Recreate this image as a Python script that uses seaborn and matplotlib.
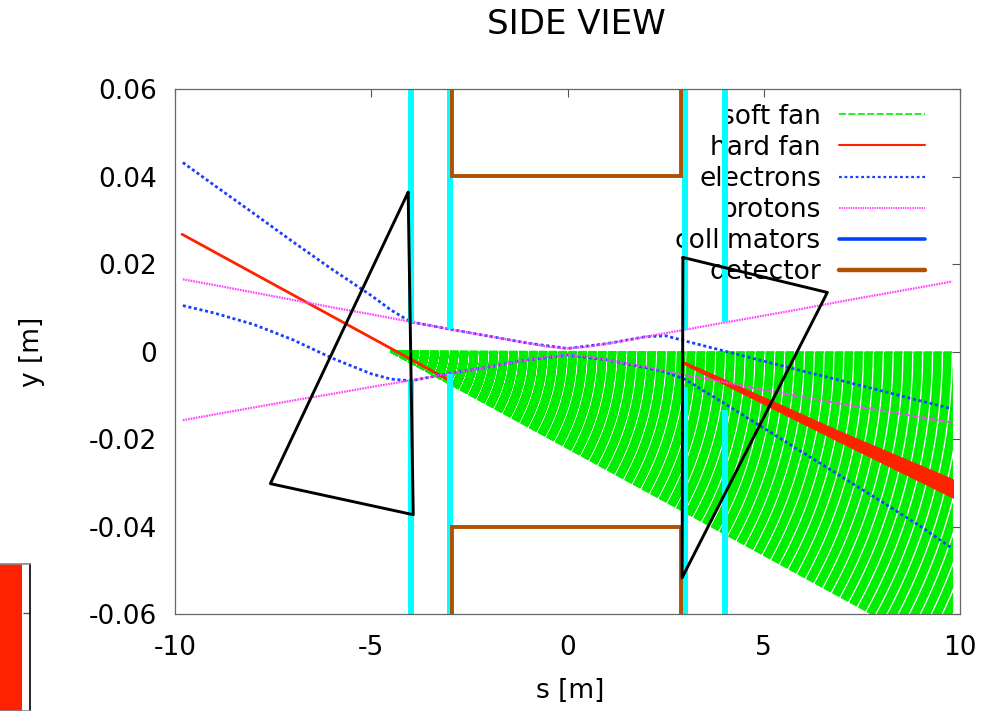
import numpy as np
import pandas as pd
import matplotlib
matplotlib.use("Agg")
import matplotlib.pyplot as plt
import seaborn as sns
from matplotlib.lines import Line2D

# ---------------- data ----------------
proton_s = [-9.8, -9, -8, -7, -6, -5, -4, -3, -2, -1, -0.5, 0, 0.5, 1, 2, 3, 4, 5, 6, 7, 8, 9, 9.8]
proton_upper = [0.0165, 0.0152, 0.0135, 0.0118, 0.0101, 0.0085, 0.0068, 0.0051, 0.0035, 0.0019,
                0.0011, 0.0007, 0.0011, 0.0018, 0.0034, 0.0050, 0.0066, 0.0082, 0.0098, 0.0115,
                0.0131, 0.0147, 0.0160]
proton_lower = [-0.0157, -0.0144, -0.0128, -0.0112, -0.0097, -0.0081, -0.0066, -0.0050, -0.0035,
                -0.0019, -0.0012, -0.0008, -0.0011, -0.0019, -0.0035, -0.0054, -0.0070, -0.0088,
                -0.0104, -0.0120, -0.0135, -0.0150, -0.0163]

electron_s = [-9.8, -9, -8, -7, -6, -5, -4.5, -4, -3, -2, -1, 0, 1, 2, 2.5, 3, 4, 5, 6, 7, 8, 9, 9.8]
electron_upper = [0.0432, 0.0380, 0.0316, 0.0251, 0.0188, 0.0128, 0.0095, 0.0068, 0.0051, 0.0035,
                  0.0019, 0.0007, 0.0018, 0.0034, 0.0036, 0.0024, 0.0001, -0.0022, -0.0045,
                  -0.0067, -0.0090, -0.0113, -0.0131]
electron_lower = [0.0105, 0.0088, 0.0062, 0.0027, -0.0015, -0.0051, -0.0063, -0.0067, -0.0050,
                  -0.0035, -0.0019, -0.0008, -0.0019, -0.0037, -0.0047, -0.0064, -0.0119, -0.0175,
                  -0.0231, -0.0287, -0.0343, -0.0400, -0.0450]

hard_fan_line_s = [-9.82, -3.05]
hard_fan_line_y = [0.0268, -0.0064]
hard_fan_s = [2.95, 6.9, 9.82]
hard_fan_top = [-0.0022, -0.0181, -0.0292]
hard_fan_bottom = [-0.0028, -0.0205, -0.0334]

soft_fan_source_s = -4.5
soft_fan_source_y = 0.0
soft_fan_end_s = 9.82
soft_fan_end_y_top = 0.0
soft_fan_end_y_bottom = -0.0700
soft_fan_n_rays = 170

collimator_s = [-4.0, -3.0, 3.0, 4.0]
collimator_top = [0.0066, 0.0051, 0.0050, 0.0068]
collimator_bottom = [-0.0065, -0.0052, -0.0080, -0.0133]

detector_s = [-2.93, -2.93, 2.9, 2.9]
detector_upper_y = [0.06, 0.0402, 0.0402, 0.06]
detector_lower_y = [-0.06, -0.0400, -0.0400, -0.06]

left_triangle_s = [-4.06, -3.93, -7.57, -4.06]
left_triangle_y = [0.0364, -0.0373, -0.0302, 0.0364]
right_triangle_s = [2.94, 6.62, 2.92, 2.94]
right_triangle_y = [0.0215, 0.0135, -0.0517, 0.0215]

x_ticks = [-10, -5, 0, 5, 10]
x_tick_labels = ["-10", "-5", "0", "5", "10"]
y_ticks = [-0.06, -0.04, -0.02, 0, 0.02, 0.04, 0.06]
y_tick_labels = ["-0.06", "-0.04", "-0.02", "0", "0.02", "0.04", "0.06"]

legend_labels = ["soft fan", "hard fan", "electrons", "protons", "collimators", "detector"]

# ---------------- style ----------------
sns.set_theme(style="white")
plt.rcParams["font.family"] = ["DejaVu Sans"]
plt.rcParams["axes.unicode_minus"] = False
plt.rcParams["lines.scale_dashes"] = False
plt.rcParams["text.color"] = "black"
plt.rcParams["axes.labelcolor"] = "black"
plt.rcParams["xtick.color"] = "black"
plt.rcParams["ytick.color"] = "black"

GREEN = "#00ee00"
RED = "#ff2200"
BLUE = "#1a3fff"
MAGENTA = "#ff44ff"
CYAN = "#00ffff"
COLL_BLUE = "#0044ff"
BROWN = "#b05000"
FS = 19

fig = plt.figure(figsize=(10, 7.11), dpi=100)
ax = fig.add_axes([0.175, 0.1364, 0.785, 0.7384])
ax.set_xlim(-10, 10)
ax.set_ylim(-0.06, 0.06)

# soft fan: many dashed rays from one source
ends = np.linspace(soft_fan_end_y_top, soft_fan_end_y_bottom, soft_fan_n_rays)
xs = np.vstack([np.full(soft_fan_n_rays, soft_fan_source_s), np.full(soft_fan_n_rays, soft_fan_end_s)])
ys = np.vstack([np.full(soft_fan_n_rays, soft_fan_source_y), ends])
ax.plot(xs, ys, color=GREEN, lw=1.8, linestyle=(0, (6.0, 1.1)),
        dash_capstyle="butt", zorder=1.5)

# hard fan
sns.lineplot(x=hard_fan_line_s, y=hard_fan_line_y, ax=ax, color=RED, lw=2.0, zorder=2)
ax.fill_between(hard_fan_s, hard_fan_top, hard_fan_bottom, color=RED, lw=0.8, zorder=2)

# electrons and protons
df_e = pd.DataFrame({"s": electron_s, "up": electron_upper, "lo": electron_lower})
df_p = pd.DataFrame({"s": proton_s, "up": proton_upper, "lo": proton_lower})
for col in ["up", "lo"]:
    sns.lineplot(data=df_e, x="s", y=col, ax=ax, color=BLUE, lw=2.0,
                 linestyle=(0, (2.2, 1.9)), zorder=2.2)
for col in ["up", "lo"]:
    sns.lineplot(data=df_p, x="s", y=col, ax=ax, color=MAGENTA, lw=1.6,
                 linestyle=(0, (1.2, 0.7)), zorder=2.3)

# collimators
ax.vlines(collimator_s, collimator_top, 0.06, colors=CYAN, lw=4.3, zorder=2.5)
ax.vlines(collimator_s, -0.06, collimator_bottom, colors=CYAN, lw=4.3, zorder=2.5)

# detector
ax.plot(detector_s, detector_upper_y, color=BROWN, lw=2.8, zorder=2.6, solid_joinstyle="miter")
ax.plot(detector_s, detector_lower_y, color=BROWN, lw=2.8, zorder=2.6, solid_joinstyle="miter")

# black triangles
ax.plot(left_triangle_s, left_triangle_y, color="black", lw=2.1, zorder=3)
ax.plot(right_triangle_s, right_triangle_y, color="black", lw=2.1, zorder=3)

# axes cosmetics
ax.set_xticks(x_ticks)
ax.set_xticklabels(x_tick_labels)
ax.set_yticks(y_ticks)
ax.set_yticklabels(y_tick_labels)
ax.tick_params(axis="both", direction="in", length=6, width=0.8, color="#555555",
               top=True, right=True, labelsize=FS, labelcolor="black")
ax.tick_params(axis="y", pad=13)
ax.tick_params(axis="x", pad=15)
for sp in ax.spines.values():
    sp.set_color("#666666")
    sp.set_linewidth(0.9)
ax.set_xlabel("s [m]", fontsize=FS)
ax.set_ylabel("y [m]", fontsize=FS)
ax.xaxis.set_label_coords(0.503, -0.122)
ax.yaxis.set_label_coords(-0.166, 0.5)

handles = [
    Line2D([], [], color=GREEN, lw=1.2, linestyle=(0, (5.0, 1.8))),
    Line2D([], [], color=RED, lw=1.5),
    Line2D([], [], color=BLUE, lw=1.6, linestyle=(0, (2.0, 2.0))),
    Line2D([], [], color=MAGENTA, lw=1.4, linestyle=(0, (1.0, 0.7))),
    Line2D([], [], color=COLL_BLUE, lw=2.6),
    Line2D([], [], color=BROWN, lw=3.2),
]
leg = ax.legend(handles, legend_labels, loc="upper right", bbox_to_anchor=(0.955, 0.972),
                frameon=False, markerfirst=False, fontsize=FS, handlelength=3.25,
                handletextpad=0.68, labelspacing=0.19, borderpad=0, borderaxespad=0)
leg.set_zorder(1)

fig.text(0.576, 1 - 25 / 711, "SIDE VIEW", fontsize=24.5, ha="center", va="center", color="black")

# fragment of a neighbouring panel at bottom-left
ax2 = fig.add_axes([-0.05, 0.0, 0.0795, (711 - 564) / 711])
ax2.set_xlim(0, 1)
ax2.set_ylim(0, 1)
ax2.axvspan(0, 0.906, color=RED, lw=0)
ax2.set_xticks([])
ax2.set_yticks([0.667])
ax2.yaxis.tick_right()
ax2.tick_params(axis="y", direction="in", length=5, width=1, color="#555555", labelright=False)
for name, sp in ax2.spines.items():
    sp.set_color("black" if name == "right" else "#888888")
    sp.set_linewidth(1.2)

fig.savefig("out.png", dpi=100)
